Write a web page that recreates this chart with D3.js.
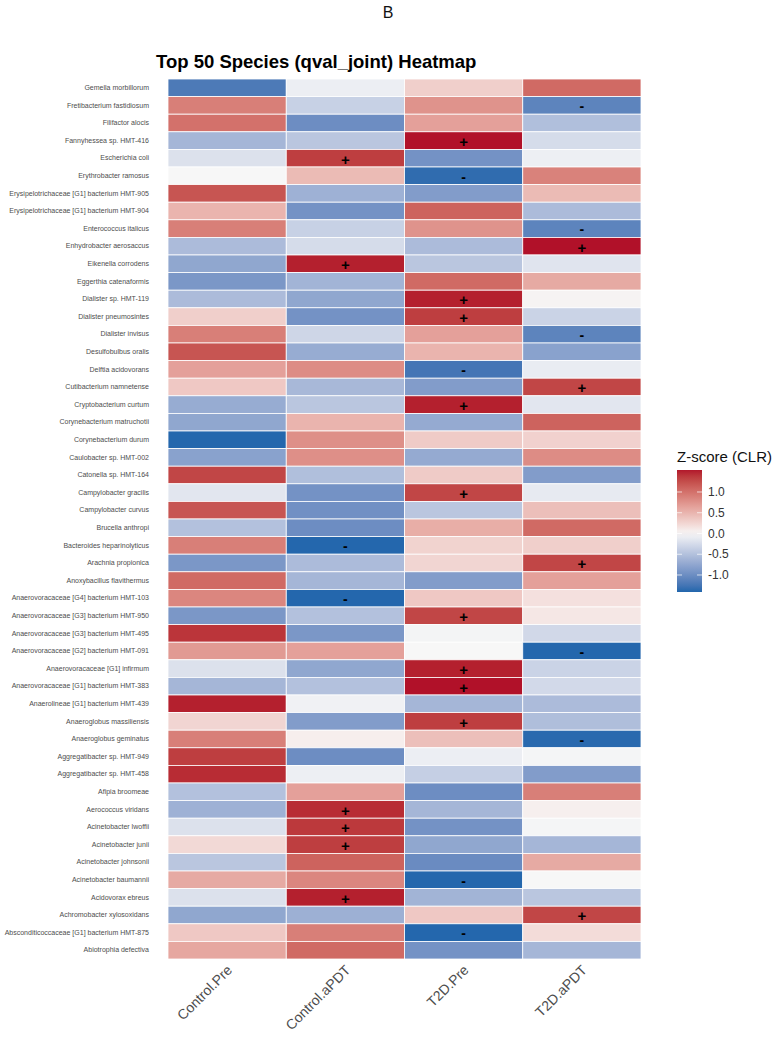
<!DOCTYPE html>
<html>
<head>
<meta charset="utf-8">
<script src="https://cdn.jsdelivr.net/npm/d3@7"></script>
<style>
  body { margin: 0; background: #fff; font-family: "Liberation Sans", Arial, sans-serif; }
</style>
</head>
<body>
<div id="heatmap"></div>
<script>
// Species (top to bottom)
var species = [
  "Gemella morbillorum", "Fretibacterium fastidiosum", "Filifactor alocis", "Fannyhessea sp. HMT-416",
  "Escherichia coli", "Erythrobacter ramosus", "Erysipelotrichaceae [G1] bacterium HMT-905",
  "Erysipelotrichaceae [G1] bacterium HMT-904", "Enterococcus italicus", "Enhydrobacter aerosaccus",
  "Eikenella corrodens", "Eggerthia catenaformis", "Dialister sp. HMT-119", "Dialister pneumosintes",
  "Dialister invisus", "Desulfobulbus oralis", "Delftia acidovorans", "Cutibacterium namnetense",
  "Cryptobacterium curtum", "Corynebacterium matruchotii", "Corynebacterium durum", "Caulobacter sp. HMT-002",
  "Catonella sp. HMT-164", "Campylobacter gracilis", "Campylobacter curvus", "Brucella anthropi",
  "Bacteroides heparinolyticus", "Arachnia propionica", "Anoxybacillus flavithermus",
  "Anaerovoracaceae [G4] bacterium HMT-103", "Anaerovoracaceae [G3] bacterium HMT-950",
  "Anaerovoracaceae [G3] bacterium HMT-495", "Anaerovoracaceae [G2] bacterium HMT-091",
  "Anaerovoracaceae [G1] infirmum", "Anaerovoracaceae [G1] bacterium HMT-383",
  "Anaerolineae [G1] bacterium HMT-439", "Anaeroglobus massiliensis", "Anaeroglobus geminatus",
  "Aggregatibacter sp. HMT-949", "Aggregatibacter sp. HMT-458", "Afipia broomeae", "Aerococcus viridans",
  "Acinetobacter lwoffii", "Acinetobacter junii", "Acinetobacter johnsonii", "Acinetobacter baumannii",
  "Acidovorax ebreus", "Achromobacter xylosoxidans", "Absconditicoccaceae [G1] bacterium HMT-875",
  "Abiotrophia defectiva"
];

var groups = ["Control.Pre", "Control.aPDT", "T2D.Pre", "T2D.aPDT"];

// z-scores per group, same order as species
var controlPre = [
  -1.2, 0.9, 1.0, -0.6, -0.2, 0.0, 1.2, 0.5, 0.9, -0.55,
  -0.75, -0.9, -0.55, 0.3, 0.9, 1.2, 0.65, 0.35, -0.7, -0.75,
  -1.4, -0.8, 1.3, -0.15, 1.2, -0.5, 0.9, -0.9, 1.05, 0.85,
  -0.9, 1.4, 0.7, -0.2, -0.6, 1.5, 0.25, 0.9, 1.35, 1.45,
  -0.5, -0.65, -0.2, 0.22, -0.45, 0.58, -0.2, -0.75, 0.35, 0.6
];
var controlAPDT = [
  -0.08, -0.35, -1.0, -0.45, 1.35, 0.45, -0.65, -0.95, -0.35, -0.25,
  1.5, -0.62, -0.75, -0.95, -0.3, -0.7, 0.8, -0.58, -0.45, 0.5,
  0.78, 0.78, -0.52, -0.95, -0.97, -1.0, -1.4, -0.55, -0.6, -1.4,
  -0.5, -0.9, 0.65, -0.75, -0.5, -0.05, -0.85, 0.07, -1.0, -0.07,
  0.65, 1.45, 1.38, 1.35, 1.1, 0.85, 1.5, -0.66, 0.9, 1.05
];
var t2dPre = [
  0.3, 0.75, 0.65, 1.55, -0.95, -1.35, -0.85, 1.1, 0.75, -0.55,
  -0.45, 1.05, 1.5, 1.35, 0.65, 0.5, -1.25, -0.85, 1.5, -0.72,
  0.33, -0.72, 0.33, 1.3, -0.45, 0.55, 0.27, 0.25, -0.85, 0.35,
  1.3, -0.03, 0.0, 1.5, 1.55, -0.6, 1.35, 0.42, -0.08, -0.37,
  -1.0, -0.6, -0.95, -0.75, -1.02, -1.4, -0.62, 0.35, -1.4, -0.95
];
var t2dAPDT = [
  1.05, -1.1, -0.52, -0.25, -0.07, 0.88, 0.45, -0.55, -1.1, 1.55,
  -0.17, 0.58, 0.03, -0.33, -1.1, -0.8, -0.1, 1.3, -0.15, 1.1,
  0.28, 0.8, -0.85, -0.12, 0.42, 1.05, 0.3, 1.3, 0.65, 0.17,
  0.12, -0.28, -1.4, -0.33, -0.27, -0.55, -0.53, -1.38, -0.02, -0.85,
  0.9, 0.06, -0.02, -0.6, 0.58, 0.0, -0.45, 1.3, 0.2, -0.6
];

// significance marks per group ("+" up, "-" down)
var sigControlPre = {};
var sigControlAPDT = { "Escherichia coli": "+", "Eikenella corrodens": "+", "Bacteroides heparinolyticus": "-",
  "Anaerovoracaceae [G4] bacterium HMT-103": "-", "Aerococcus viridans": "+", "Acinetobacter lwoffii": "+",
  "Acinetobacter junii": "+", "Acidovorax ebreus": "+" };
var sigT2dPre = { "Fannyhessea sp. HMT-416": "+", "Erythrobacter ramosus": "-", "Dialister sp. HMT-119": "+",
  "Dialister pneumosintes": "+", "Delftia acidovorans": "-", "Cryptobacterium curtum": "+",
  "Campylobacter gracilis": "+", "Anaerovoracaceae [G3] bacterium HMT-950": "+",
  "Anaerovoracaceae [G1] infirmum": "+", "Anaerovoracaceae [G1] bacterium HMT-383": "+",
  "Anaeroglobus massiliensis": "+", "Acinetobacter baumannii": "-",
  "Absconditicoccaceae [G1] bacterium HMT-875": "-" };
var sigT2dAPDT = { "Fretibacterium fastidiosum": "-", "Enterococcus italicus": "-", "Enhydrobacter aerosaccus": "+",
  "Dialister invisus": "-", "Cutibacterium namnetense": "+", "Arachnia propionica": "+",
  "Anaerovoracaceae [G2] bacterium HMT-091": "-", "Anaeroglobus geminatus": "-",
  "Achromobacter xylosoxidans": "+" };

var legendTicks = [1.0, 0.5, 0.0, -0.5, -1.0];

document.addEventListener('DOMContentLoaded', function () {
  var W = 776, H = 1038;
  var svg = d3.select("#heatmap").append("svg")
    .attr("width", W).attr("height", H);

  var values = [controlPre, controlAPDT, t2dPre, t2dAPDT];
  var sigs = [sigControlPre, sigControlAPDT, sigT2dPre, sigT2dAPDT];

  // flatten into cells
  var cells = [];
  groups.forEach(function (g, j) {
    species.forEach(function (s, i) {
      cells.push({ group: g, species: s, value: values[j][i], sig: sigs[j][s] || "" });
    });
  });

  var x = d3.scaleBand().domain(groups).range([168, 641]);
  var y = d3.scaleBand().domain(species).range([79, 959]);

  var color = d3.scaleLinear()
    .domain([-1.41, 0, 1.53])
    .range(["#2166AC", "#F7F7F7", "#B2182B"])
    .interpolate(d3.interpolateLab);

  // header letter and title
  svg.append("text")
    .attr("x", 388).attr("y", 18)
    .attr("text-anchor", "middle")
    .style("font-size", "16px")
    .style("fill", "#111")
    .text("B");

  svg.append("text")
    .attr("x", 156).attr("y", 68)
    .style("font-size", "18.5px")
    .style("font-weight", "bold")
    .style("fill", "#000")
    .text("Top 50 Species (qval_joint) Heatmap");

  // tiles
  svg.append("g").selectAll("rect")
    .data(cells)
    .enter().append("rect")
    .attr("x", function (d) { return x(d.group); })
    .attr("y", function (d) { return y(d.species); })
    .attr("width", x.bandwidth())
    .attr("height", y.bandwidth())
    .attr("fill", function (d) { return color(d.value); })
    .attr("stroke", "#fff")
    .attr("stroke-width", 0.8);

  // +/- marks
  svg.append("g").selectAll("text")
    .data(cells.filter(function (d) { return d.sig !== ""; }))
    .enter().append("text")
    .attr("x", function (d) { return x(d.group) + x.bandwidth() / 2; })
    .attr("y", function (d) { return y(d.species) + y.bandwidth() / 2; })
    .attr("dy", "0.42em")
    .attr("text-anchor", "middle")
    .style("font-size", function (d) { return d.sig === "+" ? "15px" : "14px"; })
    .style("font-weight", "bold")
    .style("fill", "#000")
    .text(function (d) { return d.sig; });

  // y axis labels
  var yAxis = svg.append("g")
    .attr("transform", "translate(168,0)")
    .call(d3.axisLeft(y).tickSize(0).tickPadding(19));
  yAxis.select(".domain").remove();
  yAxis.selectAll("text")
    .attr("fill", "#4d4d4d")
    .style("font-size", "7px")
    .style("font-family", "Liberation Sans, Arial, sans-serif");

  // x axis labels (rotated)
  var xAxis = svg.append("g")
    .attr("transform", "translate(0,959)")
    .call(d3.axisBottom(x).tickSize(0).tickPadding(0));
  xAxis.select(".domain").remove();
  xAxis.selectAll("text")
    .attr("text-anchor", "end")
    .attr("dy", 0)
    .attr("fill", "#4d4d4d")
    .attr("transform", "translate(6,12) rotate(-45)")
    .style("font-size", "14px")
    .style("font-family", "Liberation Sans, Arial, sans-serif");

  // legend
  var lx = 677, lw = 25, ltop = 470, lbot = 592;
  var ly = d3.scaleLinear().domain([-1.41, 1.53]).range([lbot, ltop]);

  var defs = svg.append("defs");
  var grad = defs.append("linearGradient")
    .attr("id", "zgrad")
    .attr("x1", "0%").attr("y1", "100%")
    .attr("x2", "0%").attr("y2", "0%");
  d3.range(0, 1.0001, 0.05).forEach(function (t) {
    var v = -1.41 + t * (1.53 + 1.41);
    grad.append("stop")
      .attr("offset", (t * 100) + "%")
      .attr("stop-color", color(v));
  });

  svg.append("text")
    .attr("x", lx).attr("y", 462)
    .style("font-size", "15px")
    .style("fill", "#111")
    .text("Z-score (CLR)");

  svg.append("rect")
    .attr("x", lx).attr("y", ltop)
    .attr("width", lw).attr("height", lbot - ltop)
    .attr("fill", "url(#zgrad)");

  var lg = svg.append("g").selectAll("g")
    .data(legendTicks)
    .enter().append("g");
  lg.append("line")
    .attr("x1", lx).attr("x2", lx + 5)
    .attr("y1", function (d) { return ly(d); })
    .attr("y2", function (d) { return ly(d); })
    .attr("stroke", "#fff").attr("stroke-opacity", 0.7);
  lg.append("line")
    .attr("x1", lx + lw - 5).attr("x2", lx + lw)
    .attr("y1", function (d) { return ly(d); })
    .attr("y2", function (d) { return ly(d); })
    .attr("stroke", "#fff").attr("stroke-opacity", 0.7);
  lg.append("text")
    .attr("x", lx + lw + 6)
    .attr("y", function (d) { return ly(d); })
    .attr("dy", "0.35em")
    .style("font-size", "12px")
    .style("fill", "#333")
    .text(function (d) { return d.toFixed(1); });
});
</script>
</body>
</html>
